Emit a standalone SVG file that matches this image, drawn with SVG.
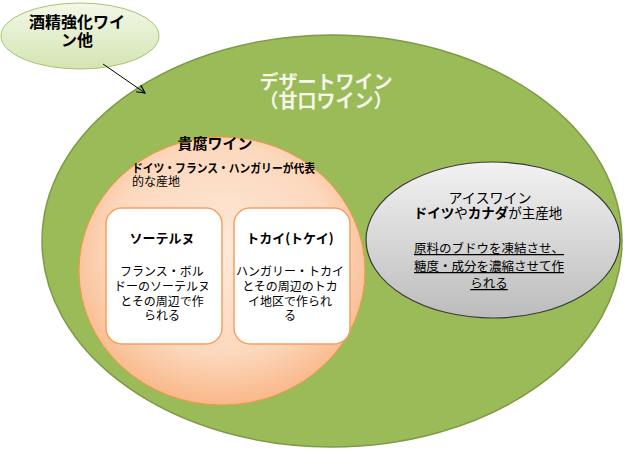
<svg xmlns="http://www.w3.org/2000/svg" width="641" height="461" viewBox="0 0 641 461">
<defs>
<linearGradient id="gTop" x1="0" y1="0" x2="0" y2="1"><stop offset="0" stop-color="#f3f8e8"/><stop offset="1" stop-color="#d3e4b3"/></linearGradient>
<radialGradient id="gOr" cx="0.5" cy="0.42" r="0.6"><stop offset="0" stop-color="#fde9d9"/><stop offset="0.65" stop-color="#fcd8bd"/><stop offset="1" stop-color="#f9b483"/></radialGradient>
<linearGradient id="gGr" x1="0" y1="0" x2="0" y2="1"><stop offset="0" stop-color="#f2f2f2"/><stop offset="1" stop-color="#bcbcbc"/></linearGradient>
<marker id="ah" markerWidth="10" markerHeight="10" refX="9" refY="5" orient="auto" markerUnits="userSpaceOnUse"><path d="M1,1 L9,5 L1,9" fill="none" stroke="#000" stroke-width="1.2"/></marker>
</defs>
<style>
text{font-family:"Noto Sans CJK JP","Noto Sans",sans-serif;text-anchor:middle;fill:#000}
.t{font-size:16px;font-weight:bold}
.h{font-size:19px;font-weight:bold;fill:#f4f7ea}
.b{font-size:12px}
.box{fill:#fff;stroke:#f7a062;stroke-width:1.5}
</style>
<rect width="641" height="461" fill="#fff"/>
<g id="dessert">
<ellipse cx="332" cy="241" rx="290" ry="206" fill="#9bbb59" stroke="#7d9b45" stroke-width="1.5"/>
<text class="h" x="326" y="89">デザートワイン<tspan x="326" dy="19">（甘口ワイン）</tspan></text>
</g>
<g id="fortified">
<ellipse cx="80" cy="36" rx="79" ry="33" fill="url(#gTop)" stroke="#a9c46e" stroke-width="1"/>
<text class="t" x="77" y="28">酒精強化ワイ<tspan x="77" dy="18">ン他</tspan></text>
</g>
<g id="connectors">
<line x1="103" y1="64" x2="145" y2="93" stroke="#000" stroke-width="1" marker-end="url(#ah)"/>
</g>
<g id="botrytis">
<ellipse cx="222" cy="271" rx="143" ry="134" fill="url(#gOr)" stroke="#f79646" stroke-width="1"/>
<text x="215" y="149" style="font-size:15px;font-weight:bold">貴腐ワイン</text>
<text x="132" y="173" style="font-size:12px;text-anchor:start"><tspan font-weight="bold" textLength="183" lengthAdjust="spacingAndGlyphs">ドイツ・フランス・ハンガリーが代表</tspan><tspan x="132" dy="13">的な産地</tspan></text>
</g>
<g id="sauternes">
<rect class="box" x="106" y="208" width="116" height="136" rx="16"/>
<text x="162" y="243" style="font-size:13px;font-weight:bold">ソーテルヌ</text>
<text class="b" x="162" y="276">フランス・ボル<tspan x="162" dy="15">ドーのソーテルヌ</tspan><tspan x="162" dy="15">とその周辺で作</tspan><tspan x="162" dy="14">られる</tspan></text>
</g>
<g id="tokaji">
<rect class="box" x="234" y="208" width="116" height="136" rx="16"/>
<text x="290" y="243" style="font-size:13px;font-weight:bold">トカイ(トケイ)</text>
<text class="b" x="290" y="276">ハンガリー・トカイ<tspan x="290" dy="15">とその周辺のトカ</tspan><tspan x="290" dy="15">イ地区で作られ</tspan><tspan x="290" dy="14">る</tspan></text>
</g>
<g id="icewine">
<ellipse cx="493" cy="240" rx="127" ry="78" fill="url(#gGr)" stroke="#3a3a3a" stroke-width="1.2"/>
<text x="490" y="203" style="font-size:14px">アイスワイン<tspan x="488" dy="15" font-size="13.5" font-weight="bold">ドイツ</tspan><tspan font-size="13.5">や</tspan><tspan font-size="13.5" font-weight="bold">カナダ</tspan><tspan font-size="13.5">が主産地</tspan></text>
<text x="489" y="253" style="font-size:12.5px;text-decoration:underline">原料のブドウを凍結させ、<tspan x="489" dy="18">糖度・成分を濃縮させて作</tspan><tspan x="489" dy="17">られる</tspan></text>
</g>
</svg>
